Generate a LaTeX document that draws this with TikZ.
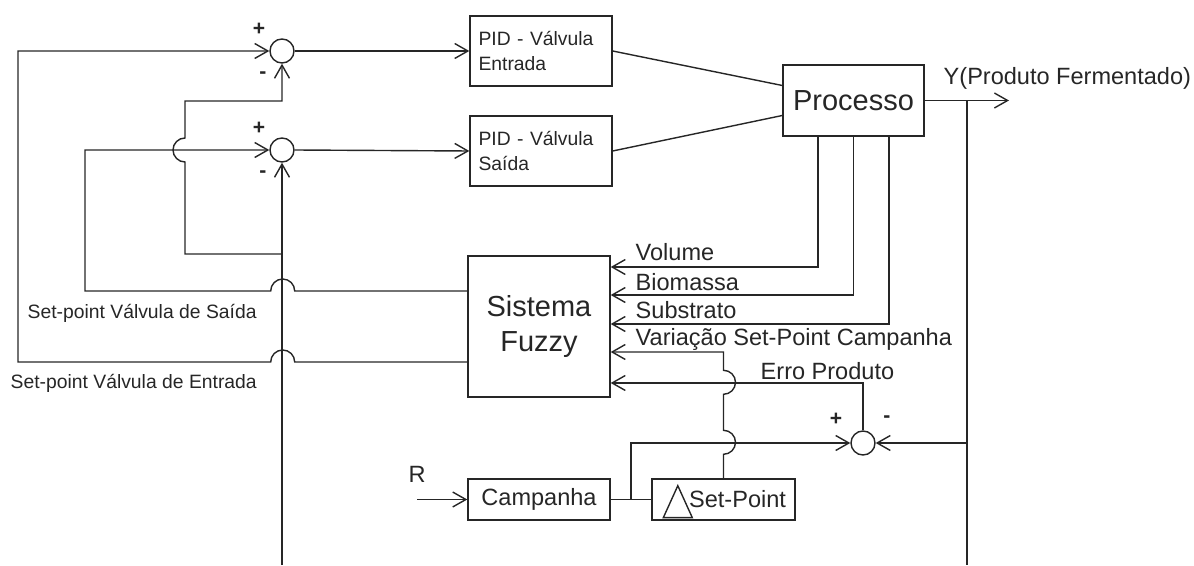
\documentclass[tikz,border=0pt]{standalone}
\usepackage{fontspec}
\setmainfont{Liberation Sans}
\usetikzlibrary{arrows.meta}
\begin{document}
\begin{tikzpicture}[x=0.02cm, y=0.02cm, line width=0.8pt, color=black!85,
    >={Straight Barb[length=7.5pt,width=8.5pt]},
    bloco/.style={draw, rectangle, minimum width=2.84cm, font=\fontsize{13.4}{16}\selectfont},
    pid/.style={bloco, minimum height=1.40cm, text width=2.5cm, align=left, font=\fontsize{11}{14.2}\selectfont},
    soma/.style={draw, circle, minimum size=0.48cm, inner sep=0pt},
    sinal/.style={inner sep=0pt, font=\fontsize{12}{14}\selectfont\bfseries},
    rotulo/.style={inner sep=0pt, anchor=base west, font=\fontsize{13.4}{16}\selectfont},
    rotpeq/.style={rotulo, font=\fontsize{11}{13}\selectfont}]

\useasboundingbox (0,0) rectangle (1194,565);

% Somadores e blocos
\node[soma] (sum1) at (282,514) {};
\node[soma] (sum2) at (282,415) {};
\node[soma] (sum3) at (863,122) {};
\node[pid] (pid1) at (541,514) {PID - Válvula\\Entrada};
\node[pid] (pid2) at (541,414) {PID - Válvula\\Saída};
\node[bloco, minimum width=2.82cm, minimum height=1.42cm, font=\fontsize{16.5}{19.5}\selectfont] (proc) at (853.5,464.5) {Processo};
\node[bloco, minimum height=2.82cm, align=center, font=\fontsize{16.5}{19.5}\selectfont] (fuzzy) at (539,238.5) {Sistema\\Fuzzy};
\node[bloco, minimum height=0.82cm] (camp) at (539,65.5) {Campanha};
\node[bloco, minimum width=2.86cm, minimum height=0.82cm, text width=2.5cm, align=right] (setp) at (723.5,65.5) {Set-Point};
\draw (setp.south west) ++(12,3) -- ++(29,0) -- ++(-14.5,32) -- cycle;

% Sinais dos somadores
\node[sinal] (s1p) at (259,536) {+};
\node[sinal] (s1m) at (263,490) {-};
\node[sinal] (s2p) at (259,437) {+};
\node[sinal] (s2m) at (263,391) {-};
\node[sinal] (s3p) at (836,146) {+};
\node[sinal] (s3m) at (887,146) {-};

% Pontos auxiliares
\coordinate (fsai) at ([yshift=0.71cm]fuzzy.west);
\coordinate (fent) at ([yshift=-0.71cm]fuzzy.west);
\coordinate (fbot) at (282,0);
\coordinate (jmin) at (282,311);
\coordinate (br) at (967,464.5);
\coordinate (bbot) at (967,0);
\coordinate (yout) at (1009,464.5);
\coordinate (jcs) at (631,65.5);
\coordinate (rin) at (417,65.5);

% Malha das valvulas
\draw[->] (sum1.east) -- (pid1.west);
\draw[->] (sum2.east) -- (pid2.west);
\draw (pid1.east) -- ([yshift=0.3cm]proc.west);
\draw (pid2.east) -- ([yshift=-0.3cm]proc.west);
\draw[->] (proc.east) -- (yout);
\draw (br) -- (bbot);
\draw[->] (br |- sum3) -- (sum3.east);

% Entradas do sistema fuzzy
\draw[->] ([xshift=-0.71cm]proc.south) |- ([yshift=1.19cm]fuzzy.east);
\draw[->] (proc.south) |- ([yshift=0.63cm]fuzzy.east);
\draw[->] ([xshift=0.71cm]proc.south) |- ([yshift=0.05cm]fuzzy.east);
\draw[->] (setp.north) -- ++(0,24) arc[start angle=-90, end angle=90, radius=12]
    -- ++(0,36) arc[start angle=-90, end angle=90, radius=12] |- ([yshift=-0.51cm]fuzzy.east);
\draw[->] (sum3.north) |- ([yshift=-1.13cm]fuzzy.east);
\draw[->] (rin) -- (camp.west);
\draw (camp.east) -- (setp.west);
\draw[->] (jcs) |- (sum3.west);

% Set-points de saida do fuzzy
\draw[->] (fsai) -- (sum2.east |- fsai) arc[start angle=0, end angle=180, radius=12] -- (85,274) |- (sum2.west);
\draw[->] (fent) -- (sum2.east |- fent) arc[start angle=0, end angle=180, radius=12] -- (18,203) |- (sum1.west);
\draw[->] (fbot) -- (sum2.south);
\draw[->] (jmin) -- (185,311) -- (185,403) arc[start angle=270, end angle=90, radius=12] -- (185,464) -| (sum1.south);

% Rotulos
\node[rotulo] (lvol) at (635,304) {Volume};
\node[rotulo] (lbio) at (635,274) {Biomassa};
\node[rotulo] (lsub) at (635,246) {Substrato};
\node[rotulo] (lvar) at (635,219) {Variação Set-Point Campanha};
\node[rotulo] (lerr) at (760,185) {Erro Produto};
\node[rotulo] (ly) at (943,480) {Y(Produto Fermentado)};
\node[rotulo] (lr) at (408,82) {R};
\node[rotpeq] (lsai) at (27,246) {Set-point Válvula de Saída};
\node[rotpeq] (lent) at (10,176) {Set-point Válvula de Entrada};
\end{tikzpicture}
\end{document}
